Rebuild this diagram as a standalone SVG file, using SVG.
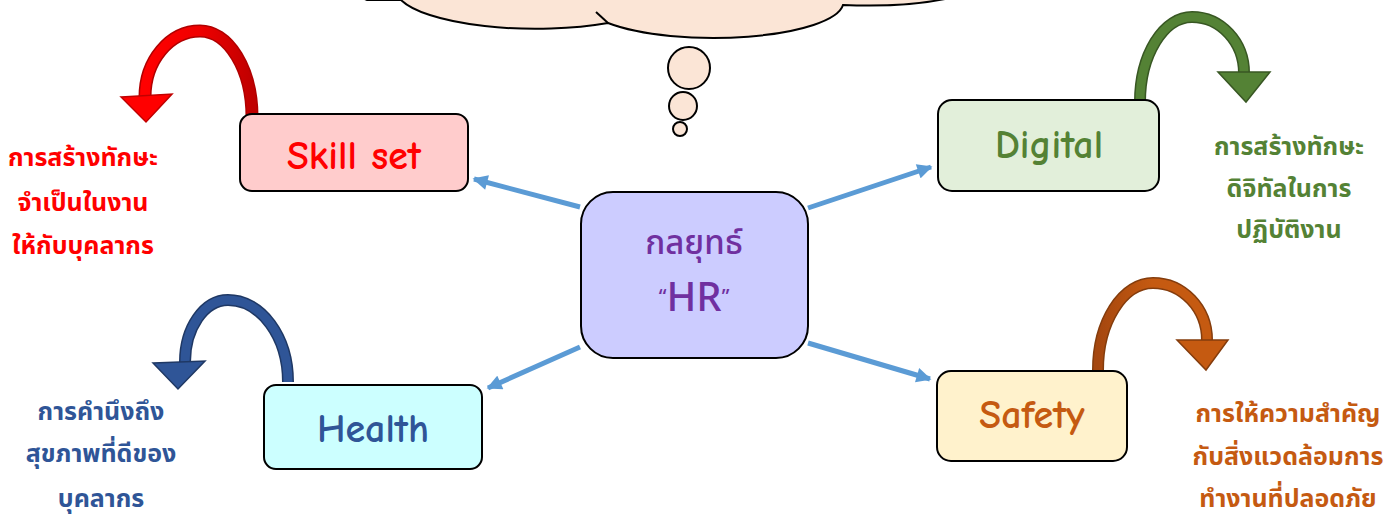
<svg xmlns="http://www.w3.org/2000/svg" width="1396" height="517" viewBox="0 0 1396 517">
<style>
.box{stroke:#000;stroke-width:2}
.lbl{font-family:"Comic Sans MS","Comic Neue","DejaVu Sans",sans-serif;font-size:40px;font-weight:bold;text-anchor:middle}
.th{font-family:"Noto Sans Thai","Noto Sans","DejaVu Sans",sans-serif;font-size:25px;font-weight:bold;text-anchor:middle}
.conn{stroke:#5B9BD5;stroke-width:5;fill:none}
.cloud{fill:#FBE5D6;stroke:#000;stroke-width:2}
</style>
<defs>
<marker id="ah" viewBox="0 0 10 10" refX="9" refY="5" markerWidth="3.2" markerHeight="3" orient="auto">
<path d="M0,0 L10,5 L0,10 Z" fill="#5B9BD5"/>
</marker>
<linearGradient id="gRed" x1="0" y1="0" x2="1" y2="0">
<stop offset="0" stop-color="#FF0000"/><stop offset="0.5" stop-color="#F00000"/><stop offset="1" stop-color="#C00000"/>
</linearGradient>
<linearGradient id="gOr" x1="0" y1="0" x2="1" y2="0">
<stop offset="0" stop-color="#A5470F"/><stop offset="0.5" stop-color="#C55A11"/><stop offset="1" stop-color="#C55A11"/>
</linearGradient>
</defs>

<g id="cloud">
<path class="cloud" d="M 360,-3 L 367,0 L 401,0 A 140 40 0 0 0 608,23 A 130 36 0 0 0 843,5 A 110 22 0 0 0 945,-1 L 945,-10 L 360,-10 Z"/>
<path d="M 596,12 L 608,23" stroke="#000" stroke-width="2" fill="none"/>
<ellipse class="cloud" cx="689" cy="68" rx="21" ry="21"/>
<ellipse class="cloud" cx="683" cy="106" rx="14" ry="14"/>
<ellipse class="cloud" cx="680" cy="129" rx="7" ry="7"/>
</g>

<g id="connectors">
<line class="conn" x1="580" y1="207" x2="474" y2="179" marker-end="url(#ah)"/>
<line class="conn" x1="808" y1="208" x2="931" y2="167" marker-end="url(#ah)"/>
<line class="conn" x1="580" y1="347" x2="488" y2="388" marker-end="url(#ah)"/>
<line class="conn" x1="808" y1="343" x2="930" y2="379" marker-end="url(#ah)"/>
</g>

<g id="arrow-red">
<path d="M 252,117 A 52 86 0 0 0 200 31 A 55 66 0 0 0 145 97" fill="none" stroke="#B00000" stroke-width="13"/>
<path d="M 252,117 A 52 86 0 0 0 200 31 A 55 66 0 0 0 145 97" fill="none" stroke="url(#gRed)" stroke-width="10"/>
<polygon points="121,97 172,94 146,122" fill="#FF0000" stroke="#C00000" stroke-width="1.5"/>
</g>
<g id="arrow-blue">
<path d="M 288,382 A 60 82 0 0 0 228 300 A 43 62 0 0 0 185 362" fill="none" stroke="#1F3864" stroke-width="12"/>
<path d="M 288,382 A 60 82 0 0 0 228 300 A 43 62 0 0 0 185 362" fill="none" stroke="#2F5597" stroke-width="9"/>
<polygon points="153,363 205,361 178,389" fill="#2F5597" stroke="#1F3864" stroke-width="1.5"/>
</g>
<g id="arrow-green">
<path d="M 1140,102 A 52 85 0 0 1 1192 17 A 52 56 0 0 1 1244 73" fill="none" stroke="#385723" stroke-width="12"/>
<path d="M 1140,102 A 52 85 0 0 1 1192 17 A 52 56 0 0 1 1244 73" fill="none" stroke="#548235" stroke-width="9"/>
<polygon points="1218,72 1270,72 1246,102" fill="#548235" stroke="#385723" stroke-width="1.5"/>
</g>
<g id="arrow-orange">
<path d="M 1098,370 A 55 87 0 0 1 1153 283 A 54 57 0 0 1 1207 340" fill="none" stroke="#843C0C" stroke-width="12"/>
<path d="M 1098,370 A 55 87 0 0 1 1153 283 A 54 57 0 0 1 1207 340" fill="none" stroke="url(#gOr)" stroke-width="9"/>
<polygon points="1177,340 1228,340 1206,370" fill="#C55A11" stroke="#843C0C" stroke-width="1.5"/>
</g>

<g id="node-skill">
<rect class="box" x="240" y="114" width="228" height="77" rx="12" fill="#FFCCCC"/>
<text class="lbl" x="354" y="169" fill="#FF0000">Skill set</text>
</g>
<g id="node-health">
<rect class="box" x="264" y="385" width="218" height="84" rx="12" fill="#CCFFFF"/>
<text class="lbl" x="373" y="442" fill="#2F5597">Health</text>
</g>
<g id="node-digital">
<rect class="box" x="938" y="100" width="221" height="91" rx="14" fill="#E2EFDA"/>
<text class="lbl" x="1049" y="158" fill="#548235">Digital</text>
</g>
<g id="node-safety">
<rect class="box" x="937" y="371" width="190" height="90" rx="14" fill="#FFF2CC"/>
<text class="lbl" x="1032" y="428" fill="#C55A11">Safety</text>
</g>
<g id="node-hr">
<rect class="box" x="581" y="192" width="227" height="166" rx="32" fill="#CCCCFF"/>
<text class="th" x="694" y="254" fill="#7030A0" style="font-size:33px;font-weight:500">กลยุทธ์</text>
<text class="th" x="694" y="311" fill="#7030A0" style="font-size:40px;font-weight:500"><tspan style="font-size:20px" dy="-8">“</tspan><tspan dy="8">HR</tspan><tspan style="font-size:20px" dy="-8">”</tspan></text>
</g>

<g id="text-skill">
<text class="th" x="83" y="166" fill="#FF0000">การสร้างทักษะ</text>
<text class="th" x="83" y="211" fill="#FF0000">จำเป็นในงาน</text>
<text class="th" x="83" y="254" fill="#FF0000">ให้กับบุคลากร</text>
</g>
<g id="text-health">
<text class="th" x="101" y="420" fill="#2F5597">การคำนึงถึง</text>
<text class="th" x="101" y="462" fill="#2F5597">สุขภาพที่ดีของ</text>
<text class="th" x="101" y="507" fill="#2F5597">บุคลากร</text>
</g>
<g id="text-digital">
<text class="th" x="1289" y="155" fill="#548235">การสร้างทักษะ</text>
<text class="th" x="1289" y="197" fill="#548235">ดิจิทัลในการ</text>
<text class="th" x="1289" y="238" fill="#548235">ปฏิบัติงาน</text>
</g>
<g id="text-safety">
<text class="th" x="1288" y="422" fill="#C55A11">การให้ความสำคัญ</text>
<text class="th" x="1288" y="465" fill="#C55A11">กับสิ่งแวดล้อมการ</text>
<text class="th" x="1288" y="507" fill="#C55A11">ทำงานที่ปลอดภัย</text>
</g>
</svg>
